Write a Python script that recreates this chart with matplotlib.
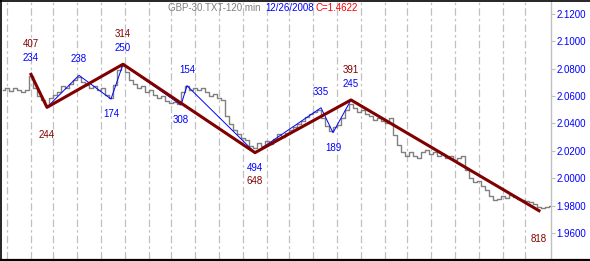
import numpy as np
import matplotlib.pyplot as plt
from matplotlib.lines import Line2D

# 120-min closes, one value every second bar
close = [2.0645, 2.0659, 2.0637, 2.0659, 2.0645, 2.0630, 2.0645, 2.0747, 2.0659, 2.0601,
         2.0572, 2.0535, 2.0586, 2.0608, 2.0630, 2.0674, 2.0659, 2.0689, 2.0718, 2.0740,
         2.0703, 2.0681, 2.0659, 2.0674, 2.0645, 2.0659, 2.0608, 2.0586, 2.0681, 2.0791,
         2.0820, 2.0776, 2.0718, 2.0689, 2.0659, 2.0674, 2.0630, 2.0645, 2.0608, 2.0586,
         2.0601, 2.0564, 2.0550, 2.0557, 2.0542, 2.0630, 2.0674, 2.0645, 2.0659, 2.0645,
         2.0659, 2.0630, 2.0601, 2.0616, 2.0586, 2.0572, 2.0455, 2.0396, 2.0353, 2.0323,
         2.0294, 2.0279, 2.0236, 2.0221, 2.0258, 2.0236, 2.0272, 2.0250, 2.0287, 2.0323,
         2.0301, 2.0331, 2.0353, 2.0374, 2.0396, 2.0418, 2.0447, 2.0469, 2.0484, 2.0499,
         2.0440, 2.0382, 2.0345, 2.0374, 2.0389, 2.0440, 2.0499, 2.0542, 2.0513, 2.0484,
         2.0499, 2.0469, 2.0455, 2.0426, 2.0440, 2.0418, 2.0404, 2.0440, 2.0316, 2.0243,
         2.0192, 2.0163, 2.0192, 2.0163, 2.0148, 2.0192, 2.0206, 2.0177, 2.0192, 2.0163,
         2.0177, 2.0148, 2.0163, 2.0133, 2.0148, 2.0163, 2.0060, 2.0002, 1.9973, 1.9980,
         1.9943, 1.9914, 1.9870, 1.9841, 1.9848, 1.9870, 1.9856, 1.9878, 1.9863, 1.9848,
         1.9841, 1.9834, 1.9826, 1.9812, 1.9790, 1.9783, 1.9790, 1.9797]
bars = np.arange(len(close)) * 2

# major swing (maroon)
major_bar = [14, 22, 60, 126, 174, 268]
major_px = [2.0759, 2.0518, 2.0833, 2.0187, 2.0572, 1.9763]
major_lbl = ['407', '244', '314', '648', '391', '818']

# minor swing (blue)
minor_bar = [14, 22, 38, 54, 60, 89, 92, 126, 159, 165, 174]
minor_px = [2.0759, 2.0518, 2.0752, 2.0579, 2.0833, 2.0535, 2.0676, 2.0187, 2.0515, 2.0333, 2.0572]
minor_lbl = ['234', '', '238', '174', '250', '308', '154', '494', '335', '189', '245']

day_lines = [2, 14, 25, 37, 49, 61, 73, 84, 96, 108, 120, 132, 143, 155, 167, 179, 191,
             202, 214, 226, 238, 250, 261]
yticks = [1.96, 1.98, 2.00, 2.02, 2.04, 2.06, 2.08, 2.10, 2.12]

plt.rcParams['font.family'] = ['Liberation Sans', 'DejaVu Sans']
BLUE, MAROON, GRAY = '#0000ff', '#800000', '#808080'
FS = 7.0

fig = plt.figure(figsize=(5.9, 2.61), dpi=100)
ax = fig.add_axes([1/590, 2/261, 550/590, 258/261])
ax.set_xlim(-1, 274)
ax.set_ylim(1.9410, 2.1295)

for d in day_lines:
    ax.axvline(d, color='#c0c0c0', lw=0.9, dashes=(6, 2.5, 2, 2.5), zorder=0)

ax.plot(bars, close, color=GRAY, lw=1.0, drawstyle='steps-mid', zorder=1)
ax.plot(minor_bar, minor_px, color=BLUE, lw=0.7, zorder=2)
ax.plot(major_bar, major_px, color=MAROON, lw=2.2, zorder=3)


def is_high(vals, i):
    nb = [vals[j] for j in (i - 1, i + 1) if 0 <= j < len(vals)]
    return all(vals[i] > v for v in nb)


for i, t in enumerate(minor_lbl):
    if not t:
        continue
    up = is_high(minor_px, i)
    ax.annotate(t, (minor_bar[i], minor_px[i]), xytext=(0, 16 if up else -15),
                textcoords='offset pixels', ha='center', va='center',
                color=BLUE, fontsize=FS, zorder=4)
for i, t in enumerate(major_lbl):
    up = is_high(major_px, i)
    ax.annotate(t, (major_bar[i], major_px[i]), xytext=(0, 30 if up else -28),
                textcoords='offset pixels', ha='center', va='center',
                color=MAROON, fontsize=FS, zorder=4)

ax.set_xticks([])
ax.yaxis.tick_right()
ax.set_yticks(yticks)
ax.set_yticklabels(['%.4f' % v for v in yticks])
ax.tick_params(axis='y', colors='#c0c0c0', labelcolor=BLUE, labelsize=FS,
               length=3, width=0.8, pad=1)
for s in ['left', 'top', 'bottom']:
    ax.spines[s].set_visible(False)
ax.spines['right'].set_color('#c0c0c0')
ax.spines['right'].set_linewidth(1)

# panel border
fig.add_artist(Line2D([0, 1], [1 - 0.5/261, 1 - 0.5/261], color='black', lw=1.2))
fig.add_artist(Line2D([0, 1], [1.0/261, 1.0/261], color='black', lw=1.6))
fig.add_artist(Line2D([0.6/590, 0.6/590], [0, 1], color='black', lw=1.2))

ty = 1 - 8/261
fig.text(168/590, ty, 'GBP-30.TXT-120 min', color=GRAY, fontsize=FS, va='center')
fig.text(265/590, ty, '12/26/2008', color=BLUE, fontsize=FS, va='center')
fig.text(315/590, ty, 'C=1.4622', color='#ff0000', fontsize=FS, va='center')

plt.savefig('out.png', dpi=100)
